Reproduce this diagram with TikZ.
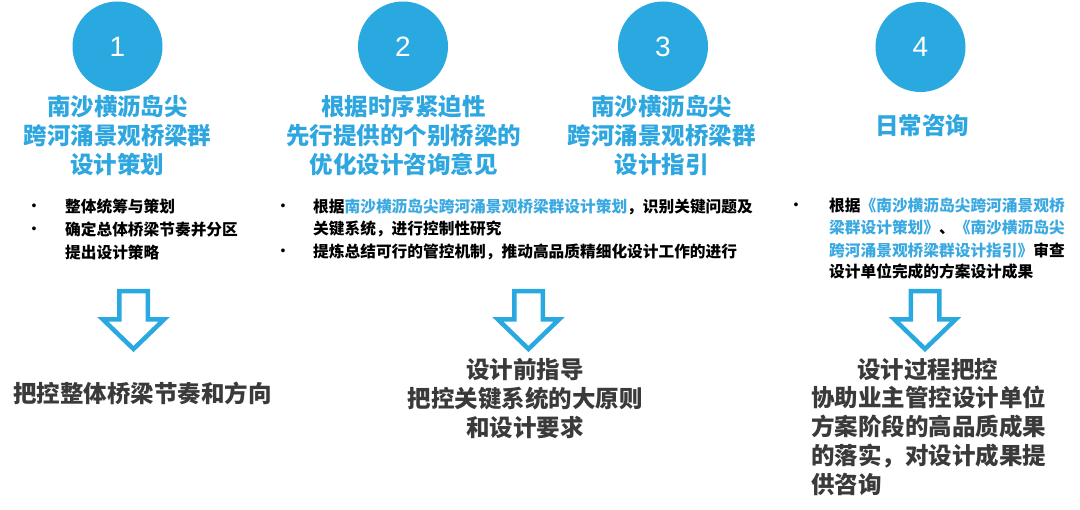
\documentclass[tikz,border=0pt]{standalone}
\usepackage{fontspec}
\setmainfont{Liberation Sans}
\newfontfamily\cjk{Noto Sans CJK SC}
\definecolor{cblue}{HTML}{2AA9E0}
\definecolor{tblue}{HTML}{2EA7E0}
\definecolor{lblue}{HTML}{3BA9E1}
\definecolor{dgray}{HTML}{3A3A3A}
\begin{document}
\begin{tikzpicture}[x=1pt,y=-1pt,
  num/.style={circle, fill=cblue, minimum size=90pt, inner sep=0pt, text=white, font=\fontsize{28}{28}\selectfont},
  title/.style={anchor=north, align=center, inner sep=0pt, text=tblue, font=\cjk\bfseries\fontsize{23.5}{29}\selectfont},
  bul/.style={anchor=west, inner sep=0pt, text=black, font=\cjk\bfseries\fontsize{15.7}{22}\selectfont},
  dotmark/.style={inner sep=0pt, text=black, font=\fontsize{14}{14}\selectfont},
  res/.style={anchor=north, align=center, inner sep=0pt, text=dgray, font=\cjk\bfseries\fontsize{23.5}{29}\selectfont},
  hollowarrow/.pic={\draw[draw=cblue, line width=4.5pt, fill=white, miter limit=10]
    (-14.25,2.25) -- (14.25,2.25) -- (14.25,30.5) -- (30.5,30.5) -- (0,60) -- (-30.5,30.5) -- (-14.25,30.5) -- cycle;}
]
\useasboundingbox[fill=white] (0,0) rectangle (1080,510);

% circles
\node[num] (c1) at (117.5,46.5) {1};
\node[num] (c2) at (403,46.5) {2};
\node[num] (c3) at (663,46.5) {3};
\node[num] (c4) at (920.5,47) {4};

% titles
\node[title] (t1) at (117.5,95) {南沙横沥岛尖\\跨河涌景观桥梁群\\设计策划};
\node[title] (t2) at (403.5,95) {根据时序紧迫性\\先行提供的个别桥梁的\\优化设计咨询意见};
\node[title] (t3) at (661.5,95) {南沙横沥岛尖\\跨河涌景观桥梁群\\设计指引};
\node[title, anchor=center] (t4) at (922,125) {日常咨询};

% bullets column 1
\node[dotmark] (d11) at (34,207) {•};
\node[bul] (b11) at (65,207) {整体统筹与策划};
\node[dotmark] (d12) at (34,230) {•};
\node[bul] (b12) at (65,230) {确定总体桥梁节奏并分区};
\node[bul] (b13) at (65,252) {提出设计策略};

% bullets column 2
\node[dotmark] (d21) at (283,207) {•};
\node[bul] (b21) at (313,207) {根据\textcolor{lblue}{南沙横沥岛尖跨河涌景观桥梁群设计策划}，识别关键问题及};
\node[bul] (b22) at (313,229) {关键系统，进行控制性研究};
\node[dotmark] (d22) at (283,252) {•};
\node[bul] (b23) at (313,252) {提炼总结可行的管控机制，推动高品质精细化设计工作的进行};

% bullets column 4
\node[dotmark] (d41) at (796,206) {•};
\node[bul] (b41) at (829,206) {根据\textcolor{lblue}{《南沙横沥岛尖跨河涌景观桥}};
\node[bul] (b42) at (829,228) {\textcolor{lblue}{梁群设计策划》}、\textcolor{lblue}{《南沙横沥岛尖}};
\node[bul] (b43) at (829,250) {\textcolor{lblue}{跨河涌景观桥梁群设计指引》}审查};
\node[bul] (b44) at (829,272) {设计单位完成的方案设计成果};

% arrows
\pic (a1) at (133.5,289) {hollowarrow};
\pic (a2) at (528.5,289) {hollowarrow};
\pic (a4) at (925,289) {hollowarrow};

% results
\node[res, anchor=center] (r1) at (142.5,393) {把控整体桥梁节奏和方向};
\node[res] (r2) at (525,358) {设计前指导\\把控关键系统的大原则\\和设计要求};
\node[res, anchor=center] (r4a) at (927.5,370) {设计过程把控};
\node[res, anchor=north west, align=left] (r4b) at (811,386) {协助业主管控设计单位\\方案阶段的高品质成果\\的落实，对设计成果提\\供咨询};
\end{tikzpicture}
\end{document}
